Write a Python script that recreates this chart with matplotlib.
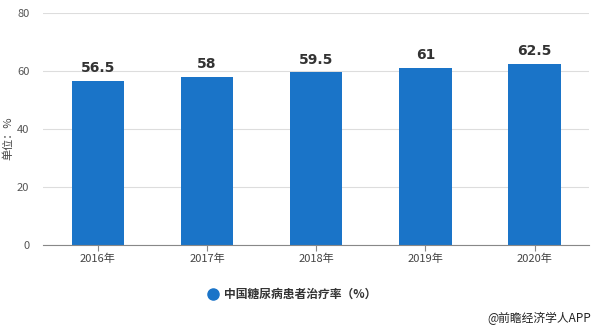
import matplotlib
matplotlib.use("Agg")
import matplotlib.pyplot as plt
from matplotlib.lines import Line2D
import numpy as np

plt.rcParams["font.family"] = ["Noto Sans CJK SC", "DejaVu Sans"]

years = ["2016年", "2017年", "2018年", "2019年", "2020年"]
rates = [56.5, 58, 59.5, 61, 62.5]
value_labels = ["56.5", "58", "59.5", "61", "62.5"]
yticks = [0, 20, 40, 60, 80]

BAR_COLOR = "#1a74c8"

fig = plt.figure(figsize=(6, 3.3), dpi=100)
ax = fig.add_axes([0.072, 0.258, 0.91, 0.703])

xs = np.arange(len(years))
ax.bar(xs, rates, width=0.48, color=BAR_COLOR, zorder=2)
for x, y, lab in zip(xs, rates, value_labels):
    ax.text(x, y + 2, lab, ha="center", va="bottom", fontsize=10,
            fontweight="semibold", color="#333333", family="DejaVu Sans")

ax.set_xlim(-0.5, len(years) - 0.5)
ax.set_ylim(0, 80)
ax.set_yticks(yticks)
ax.set_xticks(xs)
ax.set_xticklabels(years, fontsize=8, color="#444444")
ax.tick_params(axis="y", length=0, labelsize=8, labelcolor="#555555", pad=10)
ax.tick_params(axis="x", length=4, color="#888888", labelsize=8, pad=2)
ax.grid(True, axis="y", color="#dddddd", linewidth=0.8, zorder=0)
for side in ("top", "right", "left"):
    ax.spines[side].set_visible(False)
ax.spines["bottom"].set_color("#888888")

fig.text(0.013, 0.58, "单位：%", rotation=90, ha="center", va="center",
         fontsize=8, color="#444444")

# legend
fig.add_artist(Line2D([0.355], [0.108], transform=fig.transFigure, marker="o",
                      markersize=8, color=BAR_COLOR, linestyle="none"))
fig.text(0.373, 0.108, "中国糖尿病患者治疗率（%）", ha="left", va="center",
         fontsize=8.5, fontweight="bold", color="#333333")

fig.text(0.985, 0.035, "@前瞻经济学人APP", ha="right", va="center",
         fontsize=8.5, color="#222222")

fig.savefig("out.png", dpi=100)
